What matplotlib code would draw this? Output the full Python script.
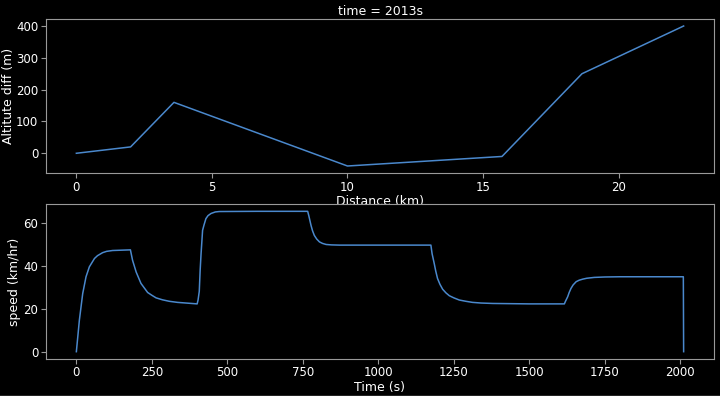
import matplotlib
matplotlib.use("Agg")
import matplotlib.pyplot as plt

# altitude profile (km, m)
dist_km = [0, 2.0, 3.6, 10.0, 15.7, 18.65, 22.4]
alt_diff = [0, 20, 160, -40, -10, 250, 400]

# speed trace (s, km/hr)
time_s = [0, 10, 21, 32, 43, 60, 70, 87, 100, 120, 179,
          186, 198, 214, 236, 250, 264, 285, 308, 335, 363, 400,
          403, 407, 410, 413, 418, 423, 429, 436, 446, 460, 473, 600, 766,
          770, 777, 782, 788, 796, 805, 815, 827, 845, 871, 1000, 1174,
          1178, 1185, 1190, 1196, 1204, 1213, 1224, 1235, 1250, 1268, 1290,
          1312, 1340, 1379, 1500, 1616,
          1620, 1627, 1632, 1638, 1645, 1655, 1665, 1677, 1690, 1715, 1750,
          1800, 2010, 2011]
speed = [0, 14.7, 27, 34.8, 39.4, 43.3, 44.6, 46, 46.6, 47, 47.3,
         42.5, 37, 31.7, 27.5, 26.2, 25, 24.1, 23.4, 22.9, 22.6, 22.2,
         24, 28, 38, 45.6, 56.4, 59, 61.8, 63.2, 64.2, 64.9, 65.1, 65.2, 65.2,
         63, 58.7, 56.2, 54, 52.3, 51, 50.3, 49.8, 49.6, 49.5, 49.5, 49.5,
         45.5, 41, 37.5, 34, 31.3, 29, 27.3, 26, 25, 24, 23.4,
         22.9, 22.6, 22.4, 22.2, 22.2,
         23.5, 25.5, 27.5, 29.4, 31, 32.5, 33.2, 33.7, 34.1, 34.5, 34.7,
         34.8, 34.8, 0]

title = "time = 2013s"

plt.style.use("dark_background")
plt.rcParams["font.size"] = 8.5

fig = plt.figure(figsize=(7.2, 3.96), dpi=100)
ax1 = fig.add_axes([46 / 720, 1 - 173 / 396, 668 / 720, 154 / 396])
ax2 = fig.add_axes([46 / 720, 1 - 358.7 / 396, 668 / 720, 154.4 / 396])

line_col = "#4a88cc"

ax1.plot(dist_km, alt_diff, color=line_col, lw=1.1)
ax1.set_xlabel("Distance (km)", fontsize=9, labelpad=1)
ax1.set_ylabel("Altitute diff (m)", fontsize=9, labelpad=1)
ax1.set_title(title, fontsize=9, pad=3)
ax1.set_yticks([0, 100, 200, 300, 400])
ax1.set_xticks([0, 5, 10, 15, 20])

ax2.plot(time_s, speed, color=line_col, lw=1.1)
ax2.set_xlabel("Time (s)", fontsize=9, labelpad=1)
ax2.set_ylabel("speed (km/hr)", fontsize=9, labelpad=2)
ax2.set_yticks([0, 20, 40, 60])
ax2.set_xticks([0, 250, 500, 750, 1000, 1250, 1500, 1750, 2000])

for ax in (ax1, ax2):
    for sp in ax.spines.values():
        sp.set_color("#999999")
    ax.tick_params(colors="#999999", labelcolor="white", labelsize=8.5, pad=2)

# faint frame line along the bottom edge, as in the reference image
fig.add_artist(plt.Line2D([0, 1], [0.5 / 396, 0.5 / 396], color="#bbbbbb", lw=1))

fig.savefig("out.png", dpi=100, facecolor="black")
